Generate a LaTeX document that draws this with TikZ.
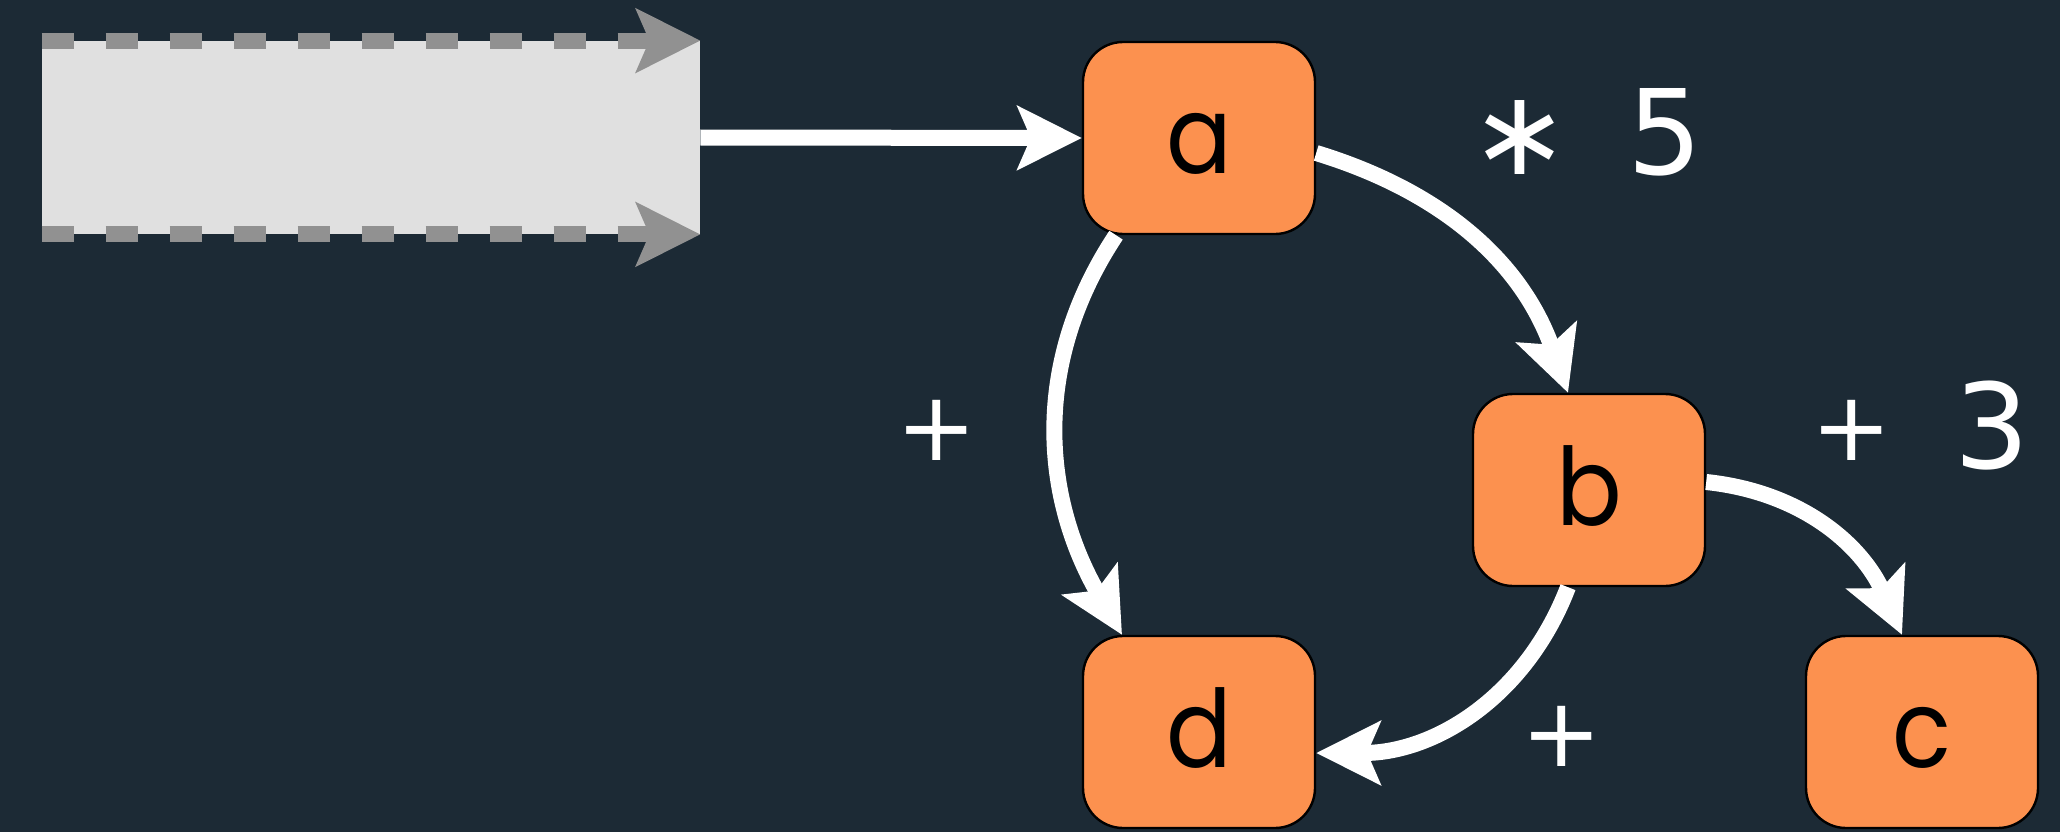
\documentclass[tikz,border=0pt]{standalone}
\usepackage{fontspec}
\setmainfont{Poppins}
\newfontfamily\labelfont{DejaVu Sans}
\usetikzlibrary{arrows.meta}
\definecolor{bg}{HTML}{1C2A35}
\definecolor{nodeorange}{HTML}{FC914F}
\definecolor{srcgray}{HTML}{E0E0E0}
\definecolor{dashgray}{HTML}{919191}
\newcommand{\boxtext}[1]{\scalebox{0.9}[1]{#1}}
\newcommand{\plussign}{{\fontsize{48}{50}\selectfont +}}
\begin{document}
\begin{tikzpicture}[x=0.5pt,y=0.5pt,
  box/.style={draw=black, line width=1.2pt, fill=nodeorange, rounded corners=20pt,
    minimum width=116pt, minimum height=96pt, inner sep=0pt,
    text height=35pt, text depth=0pt,
    font=\fontsize{54}{60}\selectfont},
  srcbox/.style={fill=srcgray, minimum width=329pt, minimum height=96.5pt, inner sep=0pt},
  tipshape/.style={-{Stealth[length=32pt,width=31.5pt,inset=6.5pt]}},
  wire/.style={draw=white, line width=8pt, tipshape},
  dashwire/.style={draw=dashgray, line width=8pt, dash pattern=on 16pt off 16pt, tipshape},
  lbl/.style={text=white, inner sep=0pt, font=\labelfont\fontsize{59}{62}\selectfont}
]
\fill[bg] (0,0) rectangle (2060,832);
\useasboundingbox (0,0) rectangle (2060,832);

\node[srcbox] (src) at (371,694.5) {};
\draw[dashwire] (src.north west) -- (src.north east);
\draw[dashwire] (src.south west) -- (src.south east);

\node[box] (a) at (1199,694) {\boxtext{a}};
\node[box] (b) at (1589,342) {\boxtext{b}};
\node[box] (d) at (1199,100) {\boxtext{d}};
\node[box] (c) at (1922,100) {\boxtext{c}};

\draw[wire] (src.east) -- (a.west);
\draw[wire] ([yshift=-7.5pt]a.east) to[out=-17,in=109.5] ([xshift=-10.5pt]b.north);
\draw[wire] ([xshift=-41.5pt]a.south) to[out=236.5,in=120] ([xshift=-38.5pt]d.north);
\draw[wire] ([yshift=4pt]b.east) to[out=-6,in=114] ([xshift=-10pt]c.north);
\draw[wire] ([xshift=-10.5pt]b.south) to[out=249,in=0] ([yshift=-10.5pt]d.east);

\node[lbl, anchor=base] (l1) at (1586.5,658) {∗\hspace{10pt} 5};
\node[lbl] (l2) at (937,402) {\plussign};
\node[lbl, anchor=base] (l3) at (1920.5,364) {\raisebox{4pt}{\plussign}\hspace{13pt} 3};
\node[lbl] (l4) at (1562,96) {\plussign};
\end{tikzpicture}
\end{document}
